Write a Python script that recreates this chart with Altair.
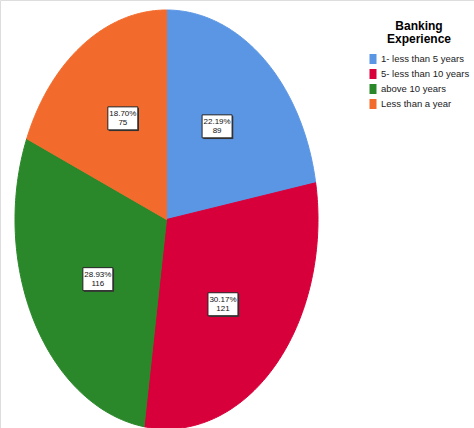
import json
import altair as alt
import pandas as pd

# ---- data ----
categories = ["1- less than 5 years", "5- less than 10 years", "above 10 years", "Less than a year"]
counts = [89, 121, 116, 75]
colors = ["#5b96e5", "#d8003a", "#2a882a", "#f36b2c"]
legend_title = ["Banking", "Experience"]

df = pd.DataFrame({"category": categories, "count": counts})

FONT = "Liberation Sans Narrow, Arial Narrow, Liberation Sans, Arial, sans-serif"

# pixel geometry of the (vertically stretched) pie, expressed as scale domains
W, H = 474, 428
CX, CY, RX, RY = 166.5, 219.5, 151.5, 209.5
x_dom = [-CX / RX, (W - CX) / RX]
y_dom = [-(H - CY) / RY, CY / RY]
xs = alt.Scale(domain=x_dom, nice=False, zero=False)
ys = alt.Scale(domain=y_dom, nice=False, zero=False)
color_scale = alt.Scale(domain=categories, range=colors)

base = (
    alt.Chart(df)
    .transform_calculate(idx="indexof(%s, datum.category)" % json.dumps(categories))
    .transform_joinaggregate(total="sum(count)")
    .transform_window(cum="sum(count)", sort=[alt.SortField("idx")], frame=[None, 0])
    .transform_calculate(
        a0="2*PI*(datum.cum-datum.count)/datum.total",
        a1="2*PI*datum.cum/datum.total",
    )
)

NSTEP = 120  # arc samples per wedge: steps 1..NSTEP on the rim, 0 and NSTEP+1 at the centre
wedges = (
    base.transform_calculate(steps="sequence(0, %d)" % (NSTEP + 2))
    .transform_flatten(["steps"])
    .transform_calculate(
        ang="datum.a0 + (datum.steps-1)/%d*(datum.a1-datum.a0)" % (NSTEP - 1),
        rim="datum.steps >= 1 && datum.steps <= %d" % NSTEP,
    )
    .transform_calculate(
        px="datum.rim ? sin(datum.ang) : 0",
        py="datum.rim ? cos(datum.ang) : 0",
    )
    .mark_line(strokeWidth=1, interpolate="linear", strokeJoin="round")
    .encode(
        x=alt.X("px:Q", scale=xs, axis=None),
        y=alt.Y("py:Q", scale=ys, axis=None),
        fill=alt.Fill(
            "category:N",
            scale=color_scale,
            legend=alt.Legend(
                title=legend_title,
                orient="none",
                legendX=368,
                legendY=21,
                titleFont=FONT,
                titleFontSize=12,
                titleFontWeight="bold",
                titleColor="#000000",
                titleAnchor="middle",
                titleAlign="center",
                titleLineHeight=13,
                titlePadding=8,
                labelFont=FONT,
                labelFontSize=9.5,
                labelColor="#222222",
                symbolType="M-0.7,-1H0.7V1H-0.7Z",
                symbolSize=100,
                symbolStrokeWidth=0,
                symbolOpacity=1,
                rowPadding=5,
                labelOffset=3,
                padding=0,
            ),
        ),
        stroke=alt.Stroke("category:N", scale=color_scale, legend=None),
        order=alt.Order("steps:Q"),
    )
)

labels_base = base.transform_calculate(
    mid="(datum.a0+datum.a1)/2",
).transform_calculate(
    lx="0.52*sin(datum.mid)",
    ly="0.58*cos(datum.mid)",
    lbl="format(datum.count/datum.total*100, '.2f') + '%\\n' + datum.count",
)

lx_enc = alt.X("lx:Q", scale=xs, axis=None)
ly_enc = alt.Y("ly:Q", scale=ys, axis=None)

BW, BH = 30, 23
shadow = labels_base.mark_rect(
    width=BW, height=BH, fill="#3a3a3a", xOffset=1.2, yOffset=1.2
).encode(x=lx_enc, y=ly_enc)

box = labels_base.mark_rect(
    width=BW, height=BH, fill="white", stroke="#222222", strokeWidth=1
).encode(x=lx_enc, y=ly_enc)

text = labels_base.mark_text(
    font=FONT, fontSize=8, lineBreak="\n", lineHeight=9.5, color="#111111", baseline="middle", dy=-4.5
).encode(x=lx_enc, y=ly_enc, text="lbl:N")

chart = (
    alt.layer(wedges, shadow, box, text)
    .properties(width=W, height=H, padding=0, autosize=alt.AutoSizeParams(type="none"))
    .configure_view(strokeWidth=0, stroke="transparent", fill="white")
    .configure_axis(domain=False, ticks=False, labels=False, grid=False)
    .configure(background="white")
)

chart.save("out.html", embed_options={"renderer": "svg", "actions": False})
